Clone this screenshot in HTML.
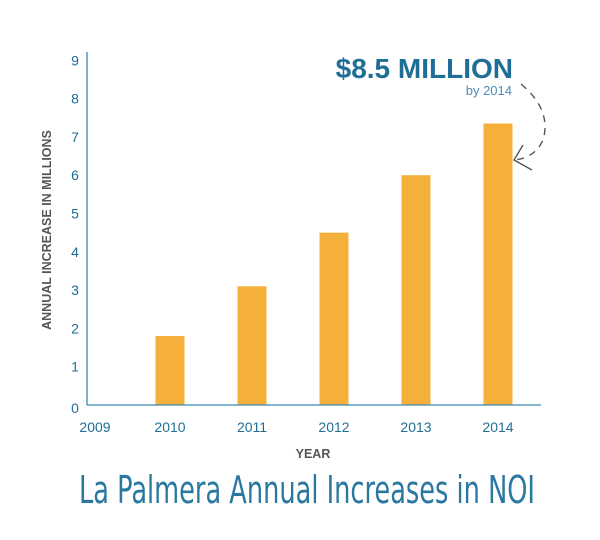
<!DOCTYPE html>
<html><head><meta charset="utf-8"><style>
html,body{margin:0;padding:0;background:#fff;}
svg{display:block;font-family:"Liberation Sans",sans-serif;}
</style></head><body>
<svg id="chart" width="600" height="540" viewBox="0 0 600 540">
<g id="grid"></g>
<g id="bars"></g>
<g id="axes"></g>
<text x="513" y="78" text-anchor="end" font-size="28" font-weight="bold" fill="#1f6e96">$8.5 MILLION</text>
<text x="512" y="95" text-anchor="end" font-size="13" fill="#4a8db5">by 2014</text>
<path d="M521 84 Q552 110 543 140 Q535 158 514 160" fill="none" stroke="#555" stroke-width="1.4" stroke-dasharray="7,6"/>
<path d="M523 145 L514 160 L532 170" fill="none" stroke="#555" stroke-width="1.4"/>
<text transform="translate(51,230) rotate(-90)" text-anchor="middle" font-size="12.5" font-weight="bold" fill="#555">ANNUAL INCREASE IN MILLIONS</text>
<text x="313" y="458" text-anchor="middle" font-size="12.5" font-weight="bold" fill="#555">YEAR</text>
<text x="79" y="503" font-size="38" font-weight="300" fill="#2a78a0" font-family="'Liberation Sans Narrow','DejaVu Sans Condensed',sans-serif" textLength="456" lengthAdjust="spacingAndGlyphs">La Palmera Annual Increases in NOI</text>
</svg>
<script>
const categories = ["2010","2011","2012","2013","2014"];
const values = [1.8, 3.1, 4.5, 6.0, 7.35];
const yTicks = [0,1,2,3,4,5,6,7,8,9];
const xTickLabels = ["2009","2010","2011","2012","2013","2014"];

const NS="http://www.w3.org/2000/svg";
const y0=405, unit=38.3, x0=87, xEnd=541;
const yScale=v=>y0-v*unit;
const xCenter=i=>170+i*82;
const barW=29;
const bars=document.getElementById('bars');
const axes=document.getElementById('axes');
function mk(tag,attrs,parent){const e=document.createElementNS(NS,tag);for(const k in attrs)e.setAttribute(k,attrs[k]);parent.appendChild(e);return e;}
values.forEach((v,i)=>{
  const r=mk('rect',{x:xCenter(i)-barW/2,y:yScale(v),width:barW,height:y0-yScale(v),fill:'#f5b03c'},bars);
  
  
});
const ya=mk('line',{x1:x0,y1:52,x2:x0,y2:y0,stroke:'#3a86b4','stroke-width':1.3},axes);


const xa=mk('line',{x1:x0,y1:y0,x2:xEnd,y2:y0,stroke:'#3a86b4','stroke-width':1.3},axes);


yTicks.forEach(t=>{
  const e=mk('text',{x:75,y:yScale(t)+5+(t===0?3:0),'text-anchor':'middle','font-size':14,fill:'#1f6e96'},axes);
  e.textContent=t;
  
  
});
xTickLabels.forEach((l,i)=>{
  const e=mk('text',{x:xCenter(i-1)-(i===0?-7:0),y:432,'text-anchor':'middle','font-size':14,fill:'#1f6e96'},axes);
  e.textContent=l;
  
  
});
</script>
</body></html>
